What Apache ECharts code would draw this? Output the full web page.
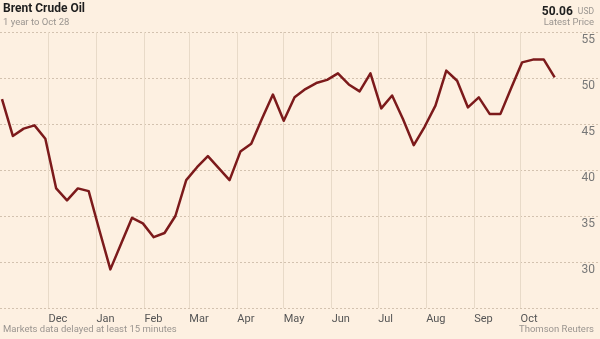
<!DOCTYPE html>
<html>
<head>
<meta charset="utf-8">
<script src="https://cdn.jsdelivr.net/npm/echarts@6/dist/echarts.min.js"></script>
<style>
html,body{margin:0;padding:0;background:#fdf0e1;}
#c{width:600px;height:339px;}
</style>
</head>
<body>
<div id="c"></div>
<script>
const dates = [
 '2015-11-01','2015-11-08','2015-11-15','2015-11-22','2015-11-29',
 '2015-12-06','2015-12-13','2015-12-20','2015-12-27',
 '2016-01-03','2016-01-10','2016-01-17','2016-01-24','2016-01-31',
 '2016-02-07','2016-02-14','2016-02-21','2016-02-28',
 '2016-03-06','2016-03-13','2016-03-20','2016-03-27',
 '2016-04-03','2016-04-10','2016-04-17','2016-04-24',
 '2016-05-01','2016-05-08','2016-05-15','2016-05-22','2016-05-29',
 '2016-06-05','2016-06-12','2016-06-19','2016-06-26',
 '2016-07-03','2016-07-10','2016-07-17','2016-07-24','2016-07-31',
 '2016-08-07','2016-08-14','2016-08-21','2016-08-28',
 '2016-09-04','2016-09-11','2016-09-18','2016-09-25',
 '2016-10-02','2016-10-09','2016-10-16','2016-10-23'
];
const prices = [
 47.7, 43.7, 44.5, 44.85, 43.4,
 38.0, 36.7, 38.0, 37.7,
 33.4, 29.2, 32.0, 34.8, 34.2,
 32.7, 33.15, 35.0, 38.9,
 40.3, 41.5, 40.2, 38.9,
 42.0, 42.85, 45.6, 48.2,
 45.35, 47.9, 48.8, 49.45, 49.8,
 50.5, 49.3, 48.55, 50.5,
 46.7, 48.1, 45.55, 42.7, 44.7,
 47.0, 50.8, 49.7, 46.8,
 47.9, 46.1, 46.1, 48.95,
 51.7, 52.0, 52.0, 50.06
];
const monthTicks = ['2015-12-01','2016-01-01','2016-02-01','2016-03-01','2016-04-01','2016-05-01',
                    '2016-06-01','2016-07-01','2016-08-01','2016-09-01','2016-10-01'];
const monthLabels = ['Dec','Jan','Feb','Mar','Apr','May','Jun','Jul','Aug','Sep','Oct'];
const yTicks = [25, 30, 35, 40, 45, 50, 55];

const FONT = "'Roboto', 'Liberation Sans', sans-serif";
const toTs = s => { const p = s.split('-').map(Number); return new Date(p[0], p[1]-1, p[2]).getTime(); };
const seriesData = dates.map((d, i) => [toTs(d), prices[i]]);
const txt = (size, color, weight) => ({fontFamily: FONT, fontSize: size, color: color, fontWeight: weight || 'normal'});

const chart = echarts.init(document.getElementById('c'));
chart.setOption({
  backgroundColor: '#fdf0e1',
  animation: false,
  title: [
    {text: 'Brent Crude Oil', left: 3, top: 3, padding: 0, textStyle: txt(12, '#1e1e1e', 'bold')},
    {text: '1 year to Oct 28', left: 3, top: 18, padding: 0, textStyle: txt(9.5, '#9a9590')},
    {text: '{a|50.06} {b|USD}', right: 6, top: 3, padding: 0, textStyle: {rich: {
      a: txt(12, '#1e1e1e', 'bold'),
      b: txt(8.5, '#9a9590')
    }}},
    {text: 'Latest Price', right: 6, top: 18, padding: 0, textStyle: txt(9.5, '#9a9590')},
    {text: 'Markets data delayed at least 15 minutes', left: 3, top: 325, padding: 0, textStyle: txt(9.5, '#9a9590')},
    {text: 'Thomson Reuters', right: 6, top: 325, padding: 0, textStyle: txt(9.5, '#9a9590')}
  ],
  grid: {left: 0, right: 0, top: 32, bottom: 31, containLabel: false},
  xAxis: {
    type: 'time',
    min: new Date(2015, 9, 30, 17).getTime(),
    max: new Date(2016, 10, 21, 7).getTime(),
    axisLine: {show: false},
    axisTick: {show: false},
    axisLabel: {show: false},
    splitLine: {show: false}
  },
  yAxis: {
    type: 'value',
    position: 'right',
    min: yTicks[0], max: yTicks[yTicks.length-1], interval: 5,
    axisLine: {show: false},
    axisTick: {show: false},
    axisLabel: {
      inside: true, margin: 5, verticalAlign: 'top', padding: [2, 0, 0, 0],
      fontFamily: FONT, fontSize: 12, color: '#777',
      formatter: v => v === yTicks[0] ? '' : String(v)
    },
    splitLine: {show: true, lineStyle: {color: '#d3c2af', type: [2, 2], width: 1}}
  },
  series: [
    {
      type: 'line',
      z: 1,
      data: seriesData,
      symbol: 'none',
      lineStyle: {opacity: 0},
      silent: true,
      markLine: {
        z: 1,
        silent: true,
        symbol: 'none',
        animation: false,
        lineStyle: {color: '#e8dac8', type: 'solid', width: 1},
        label: {
          show: true, position: 'start', formatter: p => p.name,
          align: 'left', verticalAlign: 'top', distance: 6, offset: [0, 0],
          fontFamily: FONT, fontSize: 11, color: '#555'
        },
        emphasis: {disabled: true},
        data: monthTicks.map((t, i) => ({xAxis: toTs(t), name: monthLabels[i]}))
      }
    },
    {
      type: 'line',
      z: 5,
      data: seriesData,
      showSymbol: false,
      symbol: 'none',
      lineStyle: {color: '#7c1a1b', width: 2.5, join: 'round'},
      itemStyle: {color: '#7c1a1b'}
    }
  ]
});
</script>
</body>
</html>
